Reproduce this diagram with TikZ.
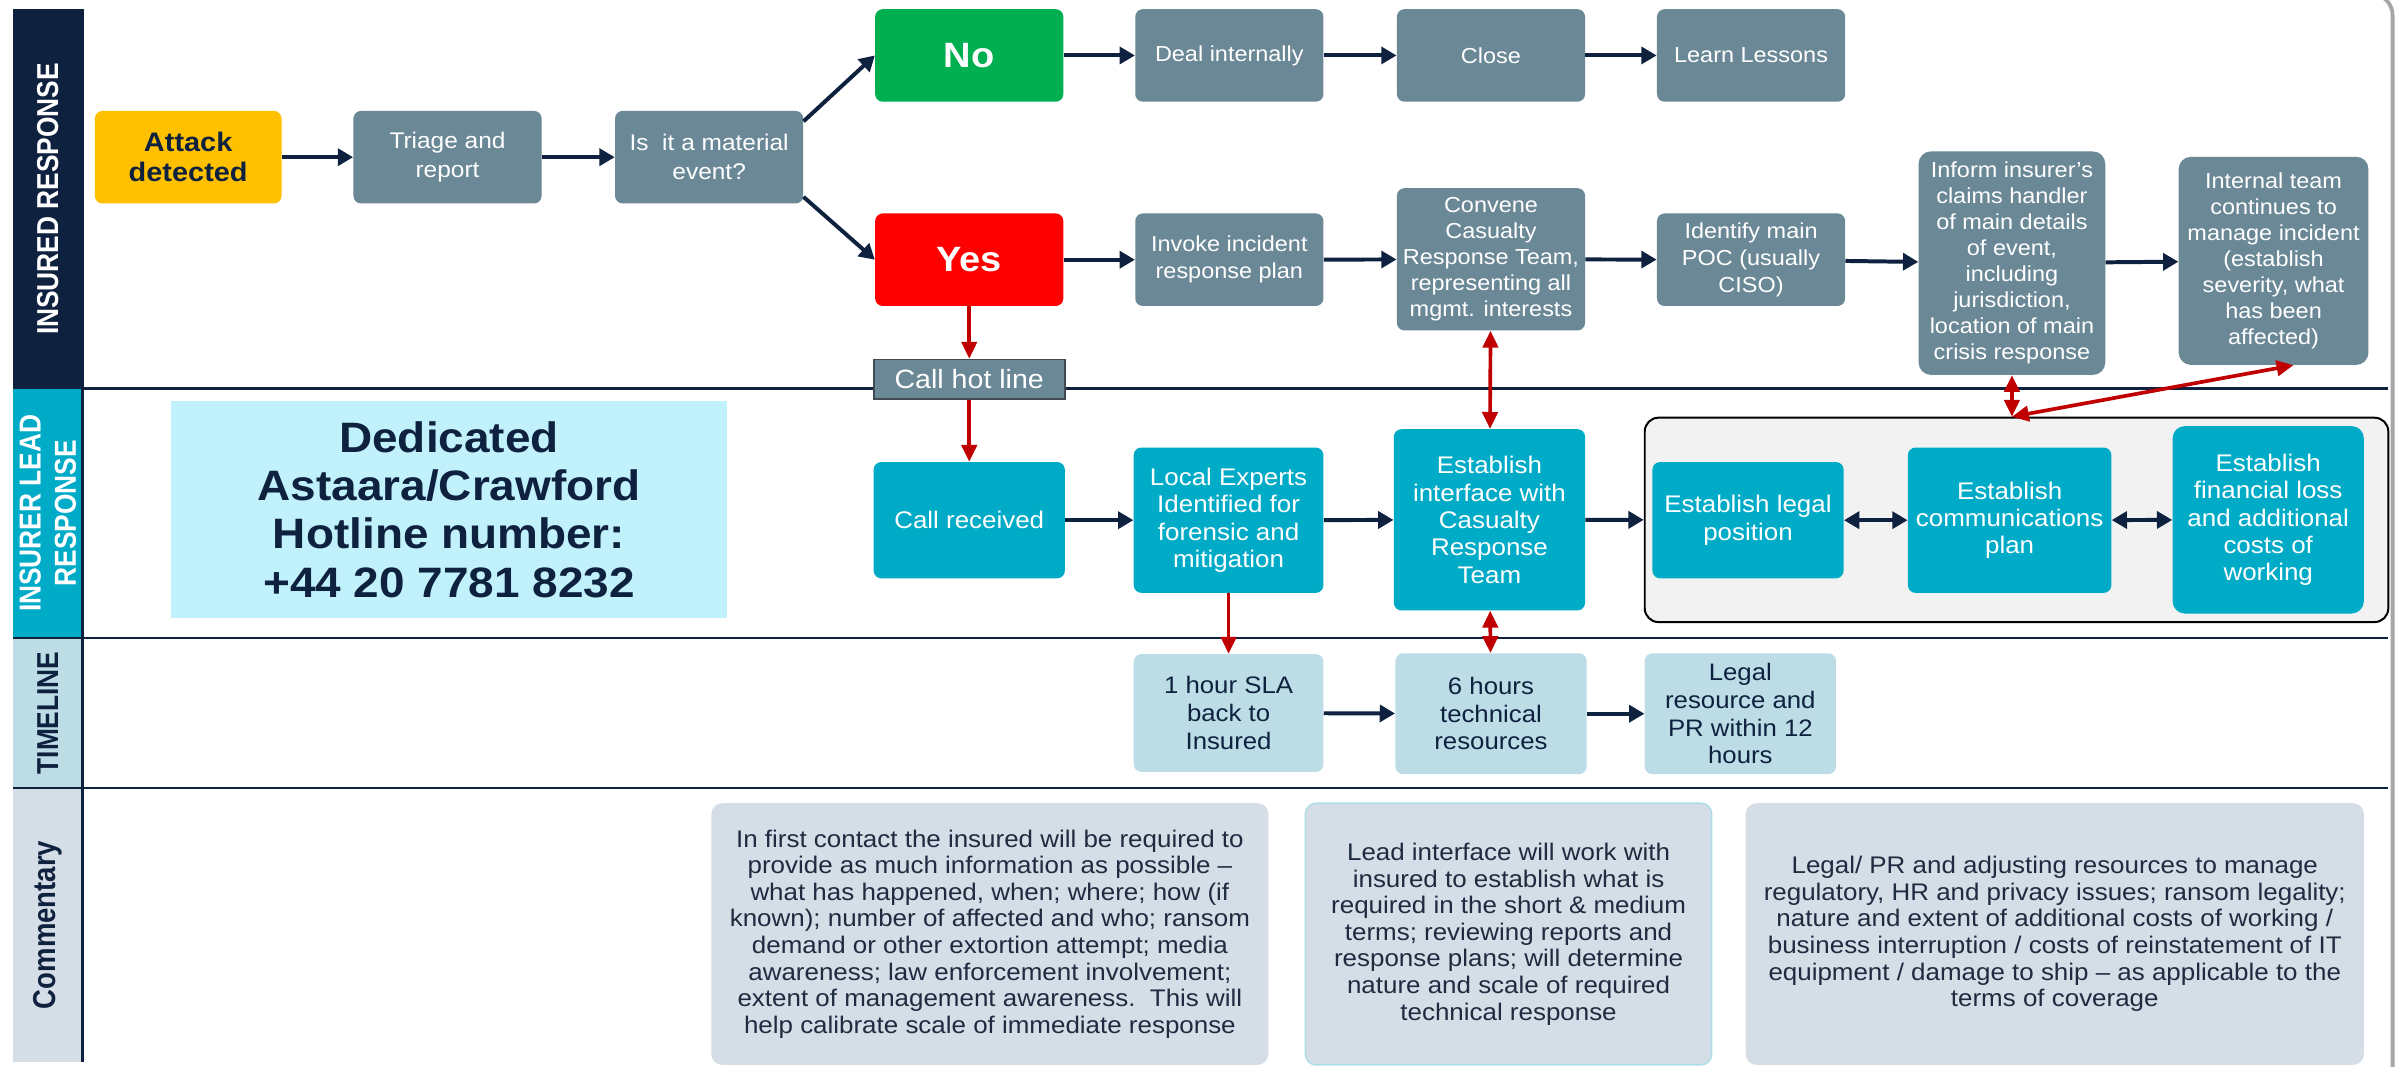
\documentclass[tikz,border=0pt]{standalone}
\usepackage{fontspec}
\setmainfont[FakeStretch=1.08]{Liberation Sans}
\newfontfamily\hdrfont{Liberation Sans}
\usepackage{graphicx}
\usetikzlibrary{arrows.meta}
\definecolor{navy}{HTML}{0E213F}
\definecolor{slate}{HTML}{6B8896}
\definecolor{cyanb}{HTML}{00ABC7}
\definecolor{tlblue}{HTML}{BDDDE6}
\definecolor{commc}{HTML}{D5DDE6}
\definecolor{hotc}{HTML}{C1F2FC}
\definecolor{yel}{HTML}{FFC000}
\definecolor{grn}{HTML}{00B050}
\definecolor{redb}{HTML}{FF0000}
\definecolor{darkred}{HTML}{C00000}
\definecolor{groupc}{HTML}{F2F2F2}
\definecolor{commtext}{HTML}{1E2B40}
\definecolor{hotborder}{HTML}{3F4A53}
\definecolor{commborder}{HTML}{AEDDE8}
\begin{document}
\begin{tikzpicture}[x=1pt,y=-1pt,
  sz/.style 2 args={minimum width=#1pt, minimum height=#2pt},
  flowbox/.style={rounded corners=5pt, inner sep=0pt, align=center},
  slbox/.style={flowbox, fill=slate, text=white, font=\fontsize{14.2}{17.5}\selectfont},
  cybox/.style={flowbox, fill=cyanb, text=white, font=\fontsize{15.7}{17.9}\selectfont},
  tlbox/.style={flowbox, fill=tlblue, text=navy, font=\fontsize{15.6}{18}\selectfont},
  commbox/.style={rounded corners=7pt, inner sep=0pt, align=center, fill=commc, text=commtext, font=\fontsize{15.7}{17.4}\selectfont},
  arr/.style={navy, line width=2.6pt, -{Triangle[length=10pt,width=11pt]}},
  darr/.style={navy, line width=2.6pt, {Triangle[length=10pt,width=11pt]}-{Triangle[length=10pt,width=11pt]}},
  rarr/.style={darkred, line width=2.4pt, -{Triangle[length=11pt,width=10pt]}},
  rdarr/.style={darkred, line width=2.4pt, {Triangle[length=11pt,width=10pt]}-{Triangle[length=11pt,width=10pt]}},
  lanehdr/.style={rotate=90, align=center, inner sep=0pt, font=\hdrfont\fontsize{17.2}{23}\selectfont\bfseries},
  laneline/.style={navy, line width=1.5pt}
]
\useasboundingbox (0,0) rectangle (1568,697.4);
\clip (0,0) rectangle (1568,697.4);
\fill[white] (0,0) rectangle (1568,697.4);

% lane headers
\fill[navy] (8.5,6) rectangle (54,254);
\fill[cyanb] (8.5,254) rectangle (54,417);
\fill[tlblue] (8.5,417) rectangle (54,515);
\fill[commc] (8.5,515) rectangle (54,694);
\draw[laneline] (54,6) -- (54,694);
\draw[laneline] (54,254) -- (1561,254);
\draw[laneline] (8.5,417) -- (1561,417);
\draw[laneline] (8.5,515) -- (1561,515);
\draw[black!35, line width=2.5pt, rounded corners=14pt] (1535,-4) -- (1563.8,-4) -- (1563.8,700);

\node[lanehdr, text=white] (hd1) at (31.25,130) {\scalebox{1}[1.15]{INSURED RESPONSE}};
\node[lanehdr, text=white] (hd2) at (31.25,335.5) {\scalebox{1}[1.15]{INSURER LEAD}\\\scalebox{1}[1.15]{RESPONSE}};
\node[lanehdr, text=navy] (hd3) at (31.25,466) {\scalebox{1}[1.15]{TIMELINE}};
\node[lanehdr, text=navy, font=\hdrfont\fontsize{18}{23}\selectfont\bfseries] (hd4) at (31.25,604.5) {\scalebox{1}[1.15]{Commentary}};

% lane 1
\node[flowbox, fill=yel, text=navy, font=\fontsize{17.5}{19.6}\selectfont\bfseries, sz={122}{60.5}] (attack) at (123,102.75) {Attack\\detected};
\node[slbox, sz={123}{60.5}, font=\fontsize{14.8}{18.7}\selectfont] (triage) at (292.5,102.75) {Triage and\\report};
\node[slbox, sz={123}{60.5}, font=\fontsize{14.8}{18.7}\selectfont] (isit) at (463.5,102.75) {Is\ \ it a material\\event?};
\node[flowbox, fill=grn, text=white, font=\fontsize{23}{26}\selectfont\bfseries, sz={123}{60.5}] (no) at (633.5,36.25) {No};
\node[slbox, sz={123}{60.5}] (deal) at (803.5,36.25) {Deal internally};
\node[slbox, sz={123}{60.5}] (close) at (974.5,36.25) {Close};
\node[slbox, sz={123}{60.5}] (learn) at (1144.5,36.25) {Learn Lessons};
\node[flowbox, fill=redb, text=white, font=\fontsize{23}{26}\selectfont\bfseries, sz={123}{60.5}] (yes) at (633.5,169.75) {Yes};
\node[slbox, sz={123}{60.5}] (invoke) at (803.5,169.75) {Invoke incident\\response plan};
\node[slbox, sz={123}{93}, font=\fontsize{14.2}{17}\selectfont] (convene) at (974.5,169.5) {Convene\\Casualty\\Response Team,\\representing all\\mgmt. interests};
\node[slbox, sz={123}{60.5}] (identify) at (1144.5,169.75) {Identify main\\POC (usually\\CISO)};
\node[slbox, sz={122}{146}, rounded corners=8pt, font=\fontsize{14.2}{17}\selectfont] (inform) at (1315,172) {Inform insurer’s\\claims handler\\of main details\\of event,\\including\\jurisdiction,\\location of main\\crisis response};
\node[slbox, sz={124}{136}, rounded corners=8pt, font=\fontsize{14.2}{17}\selectfont] (internal) at (1486,170.5) {Internal team\\continues to\\manage incident\\(establish\\severity, what\\has been\\affected)};

\draw[arr] (attack) -- (triage);
\draw[arr] (triage) -- (isit);
\draw[arr] ([yshift=-7pt]isit.north east) -- (no.west);
\draw[arr] ([yshift=4.5pt]isit.south east) -- (yes.west);
\draw[arr] (no) -- (deal);
\draw[arr] (deal) -- (close);
\draw[arr] (close) -- (learn);
\draw[arr] (yes) -- (invoke);
\draw[arr] (invoke) -- (convene);
\draw[arr] (convene) -- (identify);
\draw[arr] (identify) -- (inform);
\draw[arr] (inform) -- (internal);

% lane 2
\node[fill=hotc, inner sep=0pt, sz={363}{142}, align=center, text=navy, font=\fontsize{27.8}{31.6}\selectfont\bfseries] (hotline) at (293.5,333) {Dedicated\\Astaara/Crawford\\Hotline number:\\+44 20 7781 8232};
\node[fill=slate, draw=hotborder, line width=1.2pt, inner sep=0pt, sz={125}{26}, text=white, font=\fontsize{17.3}{19}\selectfont] (hot) at (633.5,248) {Call hot line};
\node[cybox, sz={125}{76}] (callrec) at (633.5,340) {Call received};
\node[cybox, sz={124}{95}] (local) at (803,340) {Local Experts\\Identified for\\forensic and\\mitigation};
\node[cybox, sz={125}{118.5}] (iface) at (973.5,339.75) {Establish\\interface with\\Casualty\\Response\\Team};
\node[draw=black, line width=1.3pt, fill=groupc, rounded corners=9pt, sz={486}{133.6}] (group) at (1318,339.8) {};
\node[cybox, sz={125}{76}] (legal) at (1142.5,340) {Establish legal\\position};
\node[cybox, sz={133}{95}] (comms) at (1313.5,340) {Establish\\communications\\plan};
\node[cybox, sz={125}{122.5}, rounded corners=8pt] (fin) at (1482.5,339.75) {Establish\\financial loss\\and additional\\costs of\\working};

\draw[rarr] (yes) -- (hot);
\draw[rarr] (hot) -- (callrec);
\draw[rdarr] (convene) -- (iface);
\draw[arr] (callrec) -- (local);
\draw[arr] (local) -- (iface);
\draw[arr] (iface) -- (group.west);
\draw[darr] (legal) -- (comms);
\draw[darr] (comms) -- (fin);
\coordinate (gtop) at (inform.south |- group.north);
\draw[rdarr] (inform.south) -- (gtop);
\draw[rdarr] (gtop) -- ([xshift=13pt]internal.south);

% timeline
\node[tlbox, sz={124}{77}] (sla) at (803,466) {1 hour SLA\\back to\\Insured};
\node[tlbox, sz={125}{79}] (six) at (974.5,466.5) {6 hours\\technical\\resources};
\node[tlbox, sz={125}{79}] (legalres) at (1137.5,466.5) {Legal\\resource and\\PR within 12\\hours};
\draw[rarr] (local) -- (sla);
\draw[rdarr] (iface) -- (six);
\draw[arr] (sla) -- (six);
\draw[arr] (six) -- (legalres);

% commentary
\node[commbox, sz={364}{171}] (comm1) at (647,610.5) {In first contact the insured will be required to\\provide as much information as possible –\\what has happened, when; where; how (if\\known); number of affected and who; ransom\\demand or other extortion attempt; media\\awareness; law enforcement involvement;\\extent of management awareness.\ \ This will\\help calibrate scale of immediate response};
\node[commbox, draw=commborder, line width=1pt, sz={265.5}{171}] (comm2) at (986,610.5) {Lead interface will work with\\insured to establish what is\\required in the short \& medium\\terms; reviewing reports and\\response plans; will determine\\nature and scale of required\\technical response};
\node[commbox, sz={404}{171}] (comm3) at (1343,610.5) {Legal/ PR and adjusting resources to manage\\regulatory, HR and privacy issues; ransom legality;\\nature and extent of additional costs of working /\\business interruption / costs of reinstatement of IT\\equipment / damage to ship – as applicable to the\\terms of coverage};
\end{tikzpicture}
\end{document}
